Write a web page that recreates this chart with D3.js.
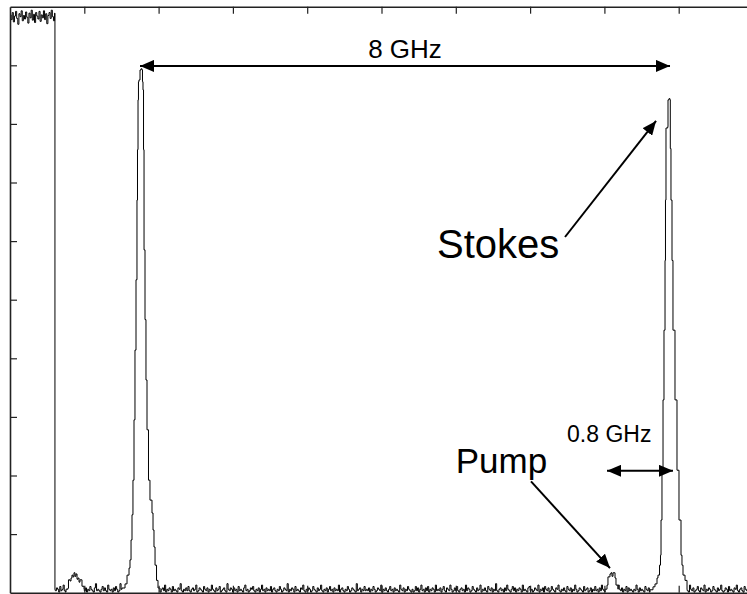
<!DOCTYPE html>
<html><head><meta charset="utf-8">
<script src="https://cdn.jsdelivr.net/npm/d3@7"></script>
<style>html,body{margin:0;padding:0;background:#fff;}svg{display:block;overflow:hidden;}</style>
</head><body>
<script>
// ---- data (x and y in screen divisions) ----
const xTicks = [1,2,3,4,5,6,7,8,9];
const yTicks = [1,2,3,4,5,6,7,8,9];

// saturated segment at the start of the trace, sampled every startStep from 0
const startStep = 0.015;
const startY = [9.86,9.78,9.90,9.74,9.84,9.92,9.80,9.70,9.88,9.83,9.93,9.76,9.85,9.79,9.91,9.82,9.72,9.89,9.81,9.94,9.77,
                9.87,9.73,9.90,9.84,9.79,9.92,9.75,9.86,9.81,9.93,9.78,9.88,9.71,9.85,9.90,9.80,9.94,9.83,9.76,9.89];
const dropX = 0.605, dropY = 0.05;

// baseline noise (units of 0.024 div), sampled from noiseStart every noiseStep
const noiseStart = 0.61, noiseStep = 0.015;
const noise = [
1,3,2,0,4,1,2,5,1,0,3,2,1,6,2,1,0,3,1,2,4,1,0,2,5,2,1,3,0,2,1,4,2,1,0,3,6,1,2,1,
0,2,4,1,3,1,0,5,2,1,2,0,3,1,4,2,0,1,6,2,1,3,0,2,1,4,1,0,2,3,1,5,2,0,1,3,2,1,4,0,
2,1,3,0,2,6,1,2,0,3,1,2,4,1,0,2,3,1,5,0,2,1,3,2,0,4,1,2,1,0,3,2,6,1,0,2,1,3,1,4,
1,0,2,3,1,2,5,0,1,3,2,1,0,4,2,1,3,0,2,1,5,2,1,0,3,1,2,4,0,1,2,3,1,0,6,2,1,3,2,0,
3,1,2,0,4,1,2,1,0,3,5,1,2,0,1,3,2,4,1,0,2,1,3,0,2,5,1,2,0,3,1,2,1,4,0,2,3,1,0,2,
1,4,2,0,1,3,2,1,6,0,2,1,3,2,0,4,1,2,1,0,3,2,5,1,0,2,1,3,2,0,1,4,2,1,0,3,1,2,5,1,
0,2,1,3,0,2,4,1,2,0,3,1,2,1,5,0,2,3,1,0,2,1,4,2,0,1,3,2,1,0,6,1,2,3,0,2,1,4,1,2,
1,3,0,2,1,4,2,0,1,3,2,1,5,0,2,1,3,1,0,2,4,1,2,0,3,1,2,1,0,5,2,1,3,0,2,1,4,2,1,0,
2,0,1,4,1,3,0,2,5,1,2,0,3,1,4,0,2,1,3,2,0,5,1,2,1,3,0,2,4,1,0,3,2,1,5,2,0,1,3,1,
4,1,0,2,3,1,2,0,5,1,3,2,0,1,4,2,1,0,3,1,2,5,0,2,1,3,1,0,4,2,1,3,0,2,1,6,1,0,2,3,
1,2,0,3,1,5,2,1,0,2,4,1,3,0,2,1,3,2,0,5,1,2,1,0,3,4,1,2,0,1,3,2,1,5,0,2,1,3,0,4,
2,1,3,0,1,4,2,1,0,3,2,5,1,0,2,1,3,1,0,4,2,1,3,0,2,1,5,2,0,1,3,2,1,0,4,1,2,3,0,1,
3,0,2,1,4,1,2,0,3,1,5,2,1,0,2,3,1,4,0,2,1,3,2,0,1,5,2,1,3,0,2,1,4,0,3,1,2,1,0,2,
1,5,2,0,3,1,2,1,0,4,2,1,3,0,2,5,1,0,2,1,3,2,0,4,1,2,1,3,0,2,1,5,2,0,1,3,2,1,0,3,
2,1,4,0,2,1,3,1,0,5,2,1,3,0,1,2,4,1,0,3,2,1,5,0,2,1,3,2,0,1,4,2,1,0,3,1,2,5,1,0,
1,3,2,0,4,1,2,1,0,3,2,5,1,0,2,3,1,0,4,2,1,3,0,2,1,5,2,0,1,3,1,2,0,4,2,1,3,0,2,1];

// small bump near the start
const bumpX = [0.754,0.781,0.787,0.808,0.821,0.834,0.848,0.861,0.875,0.888,0.902,0.915,0.929,0.942,0.969,0.996];
const bumpY = [0.06,0.08,0.22,0.20,0.25,0.30,0.27,0.34,0.28,0.32,0.23,0.25,0.18,0.22,0.11,0.06];

// first peak
const peak1X = [1.507,1.548,1.575,1.602,1.615,1.629,1.642,1.655,1.669,1.682,1.696,1.709,1.716,1.723,1.729,1.736,1.750,1.763,1.777,1.783,1.790,1.797,1.804,1.817,1.830,1.844,1.864,1.884,1.911,1.925,1.938,1.952,1.972,1.992,2.019];
const peak1Y = [0.08,0.15,0.30,0.42,0.56,0.90,1.33,1.92,2.95,4.14,5.34,6.70,7.56,8.41,8.72,8.75,8.92,8.94,8.92,8.72,8.58,7.56,5.85,4.66,3.63,2.78,1.92,1.58,1.36,1.07,0.78,0.47,0.21,0.08,0.05];

// pump residual
const pumpX = [8.008,8.035,8.048,8.075,8.089,8.102,8.116,8.143,8.156,8.183];
const pumpY = [0.06,0.13,0.27,0.32,0.34,0.28,0.34,0.25,0.13,0.06];

// Stokes peak
const peak2X = [8.614,8.654,8.681,8.708,8.721,8.742,8.755,8.762,8.775,8.789,8.802,8.816,8.822,8.829,8.852,8.856,8.869,8.883,8.887,8.896,8.910,8.923,8.950,8.977,9.004,9.031,9.044,9.058,9.085,9.112];
const peak2Y = [0.05,0.10,0.15,0.25,0.30,0.47,0.64,1.24,2.09,3.29,4.48,5.67,6.70,7.93,7.95,8.41,8.43,8.41,7.58,6.70,5.67,4.48,3.29,2.09,1.24,0.64,0.47,0.30,0.21,0.05];

// annotations
const labels = ["8 GHz","Stokes","Pump","0.8 GHz"];
const labelX = [5.316,5.747,7.23,7.497];
const labelY = [9.12,5.71,2.05,2.57];
const labelSize = [26,40,35,23];
const labelAnchor = ["middle","start","end","start"];
const arrowX1 = [1.750,7.470,7.012,8.035];
const arrowY1 = [8.99,6.07,1.90,2.08];
const arrowX2 = [8.883,8.695,8.075,8.923];
const arrowY2 = [8.99,8.05,0.42,2.08];
const arrowDouble = [true,false,false,true];

// ---- layout ----
const W = 747, H = 594;
const x = d3.scaleLinear().domain([0,10]).range([10,753]);
const y = d3.scaleLinear().domain([0,10]).range([592.7,6.7]);

const svg = d3.select("body").append("svg").attr("width",W).attr("height",H);
const defs = svg.append("defs");
function mk(id, orient){
  defs.append("marker").attr("id",id).attr("viewBox","0 0 14 12")
    .attr("refX",14).attr("refY",6).attr("markerWidth",14).attr("markerHeight",12)
    .attr("markerUnits","userSpaceOnUse").attr("orient",orient)
    .append("path").attr("d","M0,0L14,6L0,12Z").attr("fill","#000");
}
mk("ah","auto"); mk("ahs","auto-start-reverse");

// ---- trace assembly ----
const segs = [[bumpX,bumpY],[peak1X,peak1Y],[pumpX,pumpY],[peak2X,peak2Y]];
const head = startY.map((v,i)=>[i*startStep, v]);
head.push([dropX, dropY]);
let rest = [];
noise.forEach((d,i)=>{
  const xv = noiseStart + i*noiseStep;
  if (segs.some(s=>xv>=s[0][0] && xv<=s[0][s[0].length-1])) return;
  rest.push([xv, d*0.024+0.01]);
});
segs.forEach(s=>s[0].forEach((v,i)=>rest.push([v,s[1][i]])));
rest.sort((a,b)=>a[0]-b[0]);
const pts = head.concat(rest);

const line = d3.line().x(d=>x(d[0])).y(d=>y(d[1])).curve(d3.curveStepAfter);
svg.append("path").datum(pts).attr("d",line)
  .attr("fill","none").attr("stroke","#000").attr("stroke-width",1);

// ---- frame and ticks ----
const axTop = svg.append("g").attr("transform",`translate(0,${y(10)})`)
  .call(d3.axisTop(x).tickValues(xTicks).tickSize(-7).tickSizeOuter(0).tickFormat(""));
const axBot = svg.append("g").attr("transform",`translate(0,${y(0)})`)
  .call(d3.axisBottom(x).tickValues(xTicks).tickSize(-7).tickSizeOuter(0).tickFormat(""));
const axLeft = svg.append("g").attr("transform",`translate(${x(0)},0)`)
  .call(d3.axisLeft(y).tickValues(yTicks).tickSize(-7).tickSizeOuter(0).tickFormat(""));
[axTop,axBot,axLeft].forEach(a=>{
  a.select(".domain").attr("stroke","#222").attr("stroke-width",1.6);
  a.selectAll(".tick line").attr("stroke","#222").attr("stroke-width",1.2);
});

// ---- annotations ----
arrowX1.forEach((v,i)=>{
  const l = svg.append("line").attr("x1",x(v)).attr("y1",y(arrowY1[i]))
    .attr("x2",x(arrowX2[i])).attr("y2",y(arrowY2[i]))
    .attr("stroke","#000").attr("stroke-width",2)
    .attr("marker-end","url(#ah)");
  if (arrowDouble[i]) l.attr("marker-start","url(#ahs)");
});
labels.forEach((t,i)=>{
  svg.append("text").attr("x",x(labelX[i])).attr("y",y(labelY[i]))
    .attr("text-anchor",labelAnchor[i]).attr("font-family","Liberation Sans, Arial, sans-serif")
    .attr("font-size",labelSize[i]).attr("fill","#000").text(t);
});
</script>
</body></html>
